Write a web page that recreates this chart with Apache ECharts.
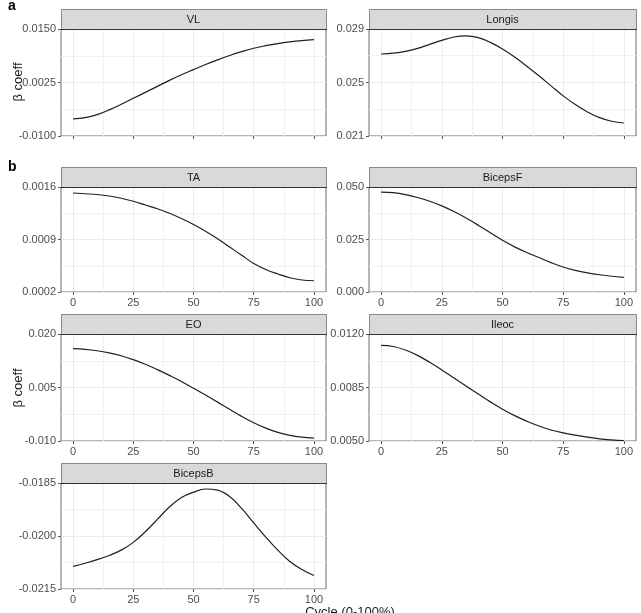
<!DOCTYPE html>
<html>
<head>
<meta charset="utf-8">
<script src="https://cdn.jsdelivr.net/npm/echarts@6/dist/echarts.min.js"></script>
<style>
  html, body { margin: 0; padding: 0; background: #fff; }
  #chart { width: 641px; height: 613px; }
</style>
</head>
<body>
<div id="chart"></div>
<script>
// cycle position (%)
const cycle = [0, 5, 10, 15, 20, 25, 30, 35, 40, 45, 50, 55, 60, 65, 70, 75, 80, 85, 90, 95, 100]
const xTicks = [0, 25, 50, 75, 100]

// beta coefficients
const vl = [-0.0060, -0.0057, -0.0050, -0.0039, -0.0026, -0.0012, 0.0002, 0.0016, 0.0030, 0.0043, 0.0055,
  0.0067, 0.0078, 0.0088, 0.0097, 0.0105, 0.0111, 0.0116, 0.0120, 0.0123, 0.0125]
const longis = [0.02713, 0.02720, 0.02733, 0.02755, 0.02785, 0.02815, 0.02840, 0.02848, 0.02835, 0.02800, 0.02750,
  0.02690, 0.02622, 0.02550, 0.02475, 0.02400, 0.02335, 0.02280, 0.02237, 0.02210, 0.02197]
const ta = [0.00152, 0.00151, 0.00150, 0.00148, 0.00145, 0.00141, 0.00136, 0.00131, 0.00125, 0.00118, 0.00110,
  0.00101, 0.00091, 0.00080, 0.00069, 0.00058, 0.00050, 0.00044, 0.00039, 0.00036, 0.00035]
const bicepsF = [0.0476, 0.0473, 0.0464, 0.0450, 0.0432, 0.0410, 0.0383, 0.0352, 0.0318, 0.0282, 0.0246,
  0.0215, 0.0188, 0.0164, 0.0140, 0.0119, 0.0103, 0.0091, 0.0082, 0.0075, 0.0070]
const eo = [0.0159, 0.0157, 0.0153, 0.0147, 0.0139, 0.0128, 0.0115, 0.0100, 0.0084, 0.0067, 0.0048,
  0.0029, 0.0009, -0.0011, -0.0031, -0.0049, -0.0064, -0.0076, -0.0084, -0.0089, -0.0092]
const ileoc = [0.01125, 0.01118, 0.01095, 0.01060, 0.01015, 0.00965, 0.00912, 0.00859, 0.00807, 0.00756, 0.00708,
  0.00666, 0.00630, 0.00598, 0.00572, 0.00553, 0.00538, 0.00525, 0.00514, 0.00507, 0.00502]
const bicepsB = [-0.02086, -0.02077, -0.02067, -0.02055, -0.02040, -0.02018, -0.01988, -0.01953, -0.01918, -0.01891, -0.01876,
  -0.01867, -0.01870, -0.01888, -0.01922, -0.01963, -0.02003, -0.02040, -0.02072, -0.02095, -0.02112]

// y tick labels per panel
const vlTicks = ['-0.0100', '0.0025', '0.0150']
const longisTicks = ['0.021', '0.025', '0.029']
const taTicks = ['0.0002', '0.0009', '0.0016']
const bicepsFTicks = ['0.000', '0.025', '0.050']
const eoTicks = ['-0.010', '0.005', '0.020']
const ileocTicks = ['0.0050', '0.0085', '0.0120']
const bicepsBTicks = ['-0.0215', '-0.0200', '-0.0185']

const cols = [{ left: 61, width: 265 }, { left: 369, width: 267 }]
const rows = [{ top: 29, height: 107 }, { top: 187, height: 105 }, { top: 334, height: 107 }, { top: 483, height: 106 }]
const STRIP = 20

const panels = [
  { name: 'VL', values: vl, ticks: vlTicks, col: 0, row: 0 },
  { name: 'Longis', values: longis, ticks: longisTicks, col: 1, row: 0 },
  { name: 'TA', values: ta, ticks: taTicks, col: 0, row: 1 },
  { name: 'BicepsF', values: bicepsF, ticks: bicepsFTicks, col: 1, row: 1 },
  { name: 'EO', values: eo, ticks: eoTicks, col: 0, row: 2 },
  { name: 'Ileoc', values: ileoc, ticks: ileocTicks, col: 1, row: 2 },
  { name: 'BicepsB', values: bicepsB, ticks: bicepsBTicks, col: 0, row: 3 },
]

const mids = arr => arr.slice(1).map((v, i) => (v + arr[i]) / 2)
const FONT = 'Liberation Sans, Arial, sans-serif'

const grid = [], xAxis = [], yAxis = [], series = [], graphic = []

panels.forEach((p, i) => {
  const c = cols[p.col], r = rows[p.row]
  const yVals = p.ticks.map(Number)
  const dec = p.ticks[0].split('.')[1].length
  const yMin = yVals[0], yMax = yVals[yVals.length - 1]

  grid.push({ left: c.left, top: r.top, width: c.width, height: r.height,
    show: true, borderColor: '#6b6b6b', borderWidth: 1, backgroundColor: 'transparent' })

  xAxis.push({
    gridIndex: i, type: 'value', min: -5, max: 105, position: 'bottom',
    axisLine: { show: false, onZero: false },
    axisTick: { show: true, customValues: xTicks, length: 3, lineStyle: { color: '#555' } },
    axisLabel: { show: p.row > 0, customValues: xTicks, color: '#4d4d4d', fontSize: 11, fontFamily: FONT, margin: 5 },
    splitLine: { show: true, lineStyle: { color: '#ebebeb', width: 1 } },
  })
  xAxis.push({
    gridIndex: i, type: 'value', min: -5, max: 105, position: 'top',
    axisLine: { show: false, onZero: false },
    axisTick: { show: false, customValues: mids(xTicks) },
    axisLabel: { show: false },
    splitLine: { show: true, lineStyle: { color: '#f1f1f1', width: 1 } },
  })
  yAxis.push({
    gridIndex: i, type: 'value', min: yMin, max: yMax, position: 'left',
    axisLine: { show: false, onZero: false },
    axisTick: { show: true, customValues: yVals, length: 3, lineStyle: { color: '#555' } },
    axisLabel: { customValues: yVals, color: '#4d4d4d', fontSize: 11, fontFamily: FONT, margin: 5,
      formatter: v => v.toFixed(dec) },
    splitLine: { show: true, lineStyle: { color: '#ebebeb', width: 1 } },
  })
  yAxis.push({
    gridIndex: i, type: 'value', min: yMin, max: yMax, position: 'right',
    axisLine: { show: false, onZero: false },
    axisTick: { show: false, customValues: mids(yVals) },
    axisLabel: { show: false },
    splitLine: { show: true, lineStyle: { color: '#f1f1f1', width: 1 } },
  })

  series.push({
    type: 'line', name: p.name, xAxisIndex: 2 * i, yAxisIndex: 2 * i,
    data: cycle.map((x, k) => [x, p.values[k]]),
    smooth: 0.4, showSymbol: false, z: 5,
    lineStyle: { color: '#1f1f1f', width: 1.2 },
  })

  // facet strip
  graphic.push({
    type: 'rect', z: 10,
    shape: { x: c.left + 0.5, y: r.top - STRIP + 0.5, width: c.width, height: STRIP },
    style: { fill: '#d9d9d9', stroke: '#8a8a8a', lineWidth: 1 },
  })
  graphic.push({
    type: 'line', z: 11,
    shape: { x1: c.left, y1: r.top + 0.5, x2: c.left + c.width + 1, y2: r.top + 0.5 },
    style: { stroke: '#333', lineWidth: 1.2 },
  })
  graphic.push({
    type: 'text', z: 12, x: c.left + c.width / 2, y: r.top - STRIP / 2 + 0.5,
    style: { text: p.name, fill: '#1a1a1a', font: '11px ' + FONT, textAlign: 'center', textVerticalAlign: 'middle' },
  })
})

graphic.push(
  { type: 'text', x: 8, y: 6, style: { text: 'a', fill: '#000', font: 'bold 14px ' + FONT, textVerticalAlign: 'middle' } },
  { type: 'text', x: 8, y: 167, style: { text: 'b', fill: '#000', font: 'bold 14px ' + FONT, textVerticalAlign: 'middle' } },
  { type: 'text', x: 18, y: 82, rotation: Math.PI / 2,
    style: { text: 'β coeff', fill: '#1a1a1a', font: '13px ' + FONT, textAlign: 'center', textVerticalAlign: 'middle' } },
  { type: 'text', x: 18, y: 388, rotation: Math.PI / 2,
    style: { text: 'β coeff', fill: '#1a1a1a', font: '13px ' + FONT, textAlign: 'center', textVerticalAlign: 'middle' } },
  { type: 'text', x: 350, y: 606,
    style: { text: 'Cycle (0-100%)', fill: '#1a1a1a', font: '13px ' + FONT, textAlign: 'center', textVerticalAlign: 'top' } },
)

const chart = echarts.init(document.getElementById('chart'), null, { renderer: 'canvas' })
chart.setOption({
  animation: false,
  backgroundColor: '#fff',
  grid, xAxis, yAxis, series, graphic,
})
</script>
</body>
</html>
